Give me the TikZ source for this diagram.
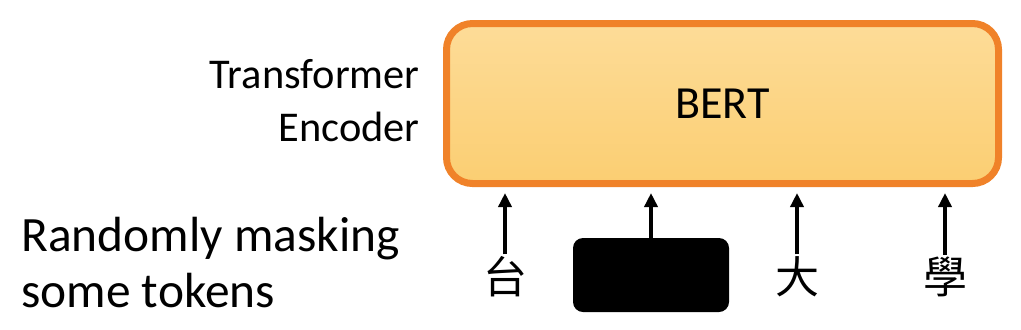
\documentclass[tikz,border=0pt]{standalone}
\usepackage{fontspec}
\setmainfont{Carlito}
\newfontfamily\cjkfont{Noto Sans CJK TC}
\usepackage{tikz}
\usetikzlibrary{arrows.meta}
\definecolor{bertedge}{HTML}{F08229}
\definecolor{berttop}{HTML}{FDDC98}
\definecolor{bertbot}{HTML}{FBCE72}

\begin{document}
\begin{tikzpicture}[x=0.5pt, y=-0.5pt, >={Triangle[length=7pt,width=6.5pt]},
  tok/.style={font=\cjkfont\fontsize{22}{22}\selectfont, inner sep=1pt},
  up/.style={->, line width=2pt, shorten >=3pt}]
  \useasboundingbox (0,0) rectangle (1021,329);
  \node[draw=bertedge, line width=3.5pt, rounded corners=13pt,
        top color=berttop, bottom color=bertbot,
        minimum width=276pt, minimum height=80pt,
        font=\fontsize{23}{27}\selectfont] (bert) at (722.5,103.5) {BERT};
  \node[anchor=east, align=right, inner sep=0pt,
        font=\fontsize{21.2}{26.5}\selectfont] (enc) at (420,101) {Transformer\\Encoder};
  \node[anchor=west, align=left, inner sep=0pt,
        font=\fontsize{24.7}{28}\selectfont] (note) at (21,263) {Randomly masking\\some tokens};
  \node[tok] (tok1) at (505,277) {台};
  \node[fill=black, rounded corners=5pt, minimum width=78pt, minimum height=37pt,
        inner sep=0pt] (mask) at (651,275) {};
  \node[tok] (tok3) at (797,277) {大};
  \node[tok] (tok4) at (945,277) {學};
  \draw[up] (tok1.north) -- (tok1.north |- bert.south);
  \draw[up] (mask.north) -- (mask.north |- bert.south);
  \draw[up] (tok3.north) -- (tok3.north |- bert.south);
  \draw[up] (tok4.north) -- (tok4.north |- bert.south);
\end{tikzpicture}
\end{document}
